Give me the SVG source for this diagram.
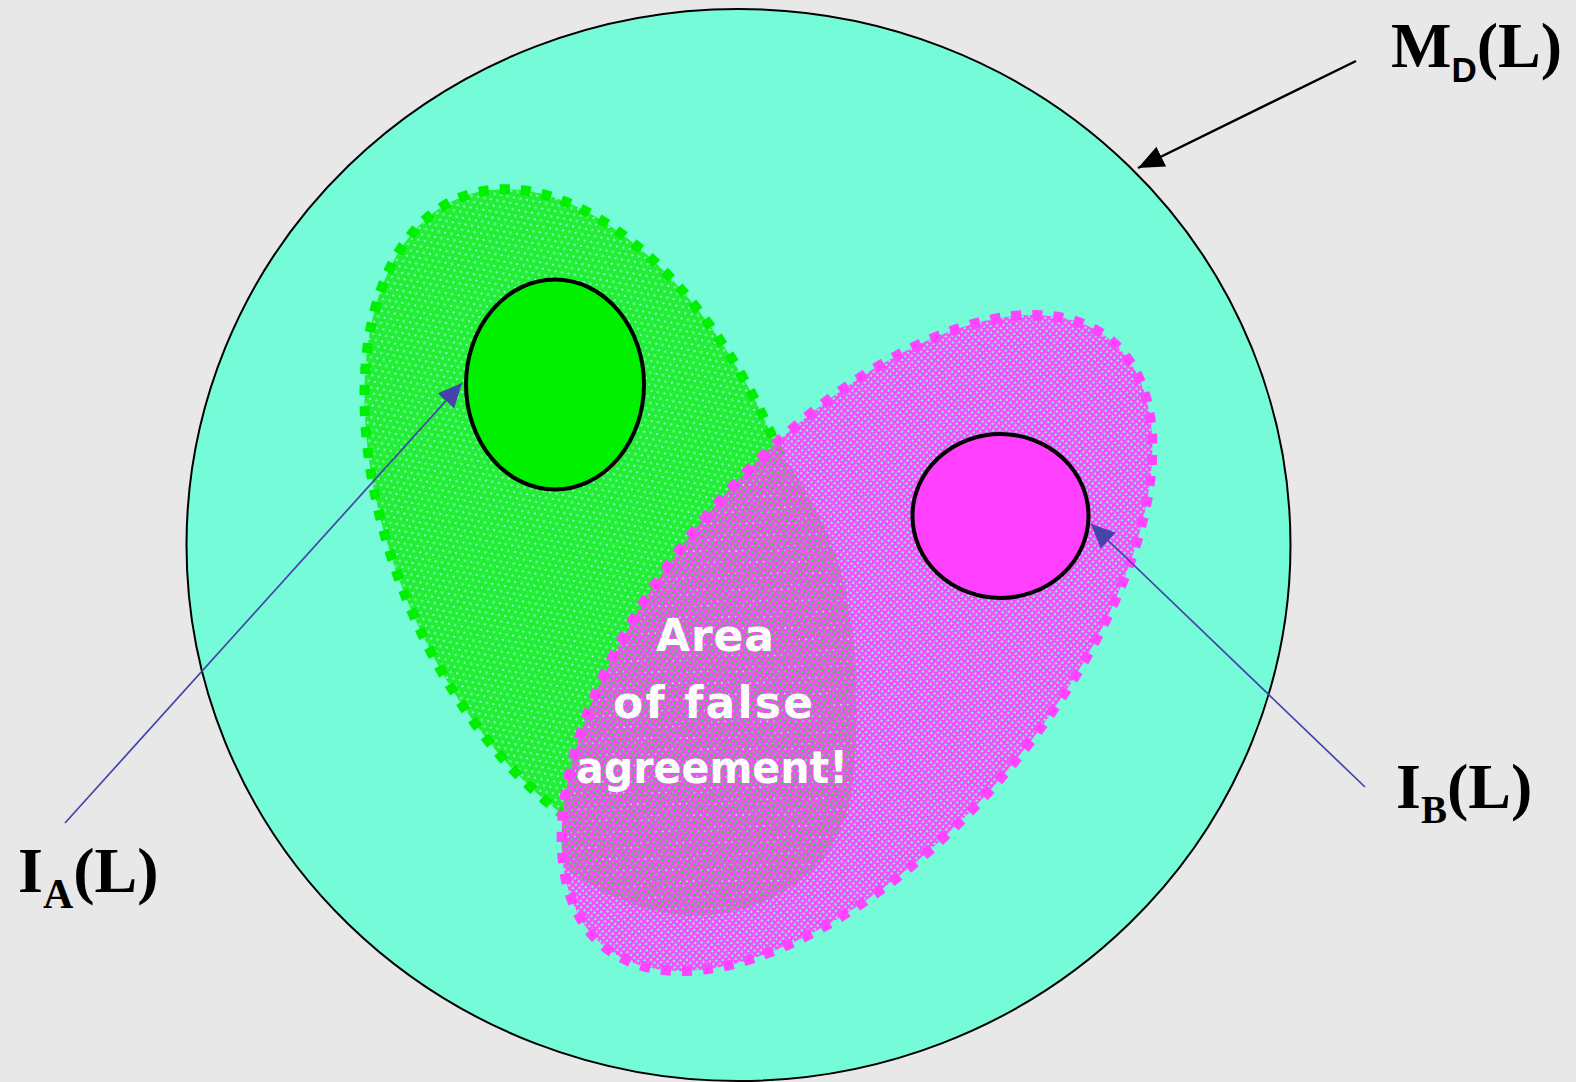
<svg xmlns="http://www.w3.org/2000/svg" width="1576" height="1082" viewBox="0 0 1576 1082">
<style>
.lbl{font-family:"Liberation Serif","Times New Roman",serif;font-weight:bold;fill:#000}
.sub{font-family:"Liberation Sans",Arial,sans-serif;font-weight:bold}
.note{font-family:"DejaVu Sans","Noto Sans",sans-serif;font-weight:bold;font-size:44px;fill:#fff;text-anchor:middle}
.blue{stroke:#4444aa;stroke-width:1.7;fill:none}
</style>
<defs>
<pattern id="gdots" width="7" height="11" patternUnits="userSpaceOnUse">
<rect width="7" height="11" fill="#22ee33"/>
<rect x="0" y="0" width="2" height="2" fill="#8cf6d2"/>
<rect x="3.5" y="5.5" width="2" height="2" fill="#8cf6d2"/>
</pattern>
<pattern id="pgrid" width="4.6" height="4.6" patternUnits="userSpaceOnUse">
<rect x="0" y="0" width="4.6" height="2.4" fill="#ff44ff"/>
<rect x="0" y="2.4" width="2.4" height="2.2" fill="#ff44ff"/>
</pattern>
<clipPath id="pinkClip">
<ellipse cx="857" cy="643" rx="395" ry="197" transform="rotate(-50 857 643)"/>
</clipPath>
<marker id="arrBlack" markerUnits="userSpaceOnUse" markerWidth="28" markerHeight="24" refX="26" refY="11" orient="auto">
<path d="M0,0 L26,11 L0,22 z" fill="#000"/>
</marker>
<marker id="arrBlue" markerUnits="userSpaceOnUse" markerWidth="26" markerHeight="24" refX="24" refY="11" orient="auto">
<path d="M0,0 L24,11 L0,22 z" fill="#4444aa"/>
</marker>
</defs>
<rect width="1576" height="1082" fill="#e8e8e8"/>
<g id="universe">
<ellipse cx="738.5" cy="545" rx="552" ry="536" fill="#76fbd8" stroke="#000" stroke-width="2"/>
</g>
<g id="setA">
<ellipse cx="592" cy="524" rx="352" ry="200" transform="rotate(68 592 524)" fill="url(#gdots)" stroke="#00f000" stroke-width="10" stroke-dasharray="10 11"/>
</g>
<g id="falseRegion" clip-path="url(#pinkClip)">
<path d="M700,420 C760,410 800,470 830,540 C855,600 862,700 852,790 C840,860 790,905 710,915 C640,920 560,880 520,820 L500,500 Z" fill="url(#gdots)"/>
</g>
<g id="setB">
<ellipse cx="857" cy="643" rx="395" ry="197" transform="rotate(-50 857 643)" fill="url(#pgrid)" stroke="#ff44ff" stroke-width="10" stroke-dasharray="10 11"/>
</g>
<g id="innerA">
<ellipse cx="555" cy="384.5" rx="89" ry="105" fill="#00f000" stroke="#000" stroke-width="4"/>
</g>
<g id="innerB">
<ellipse cx="1000.5" cy="516" rx="88" ry="82" fill="#ff40ff" stroke="#000" stroke-width="4"/>
</g>
<g id="note">
<text class="note" x="715" y="651" textLength="118" lengthAdjust="spacing">Area</text>
<text class="note" x="713" y="718" textLength="200" lengthAdjust="spacing">of false</text>
<text class="note" x="712" y="783" textLength="272" lengthAdjust="spacingAndGlyphs">agreement!</text>
</g>
<g id="connectors">
<line x1="1356" y1="61" x2="1138" y2="168" stroke="#000" stroke-width="2.5" marker-end="url(#arrBlack)"/>
<line class="blue" x1="65" y1="823" x2="462" y2="383" marker-end="url(#arrBlue)"/>
<line class="blue" x1="1365" y1="787" x2="1091" y2="524" marker-end="url(#arrBlue)"/>
</g>
<g id="labelMD">
<text class="lbl" x="1391" y="67" font-size="64">M<tspan class="sub" font-size="35" dy="15">D</tspan><tspan dy="-15">(L)</tspan></text>
</g>
<g id="labelIA">
<text class="lbl" x="18" y="892" font-size="64">I<tspan font-size="42" dy="16">A</tspan><tspan dy="-16">(L)</tspan></text>
</g>
<g id="labelIB">
<text class="lbl" x="1396" y="808" font-size="64">I<tspan font-size="39" dy="15">B</tspan><tspan dy="-15">(L)</tspan></text>
</g>
</svg>
